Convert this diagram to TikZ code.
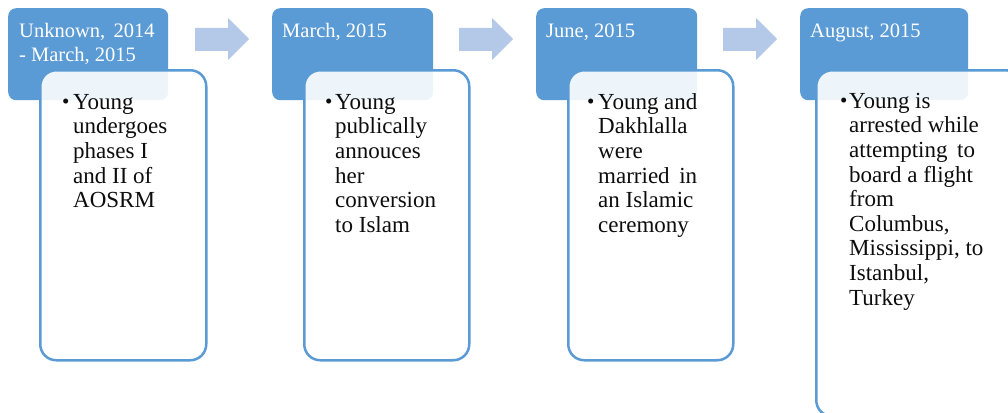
\documentclass[tikz,border=0pt]{standalone}
\usepackage{fontspec}
\setmainfont{Liberation Serif}
\begin{document}
\definecolor{hdrblue}{HTML}{5B9BD5}
\definecolor{arrowblue}{HTML}{B4C8E7}
\definecolor{bodytext}{HTML}{0D0D0D}
% first-line strut so that a node's top sits a fixed distance above its first baseline
\newcommand{\firststrut}{\rule{0pt}{17pt}}
\begin{tikzpicture}[x=1pt,y=-1pt,
  hdr/.style={fill=hdrblue, rounded corners=8pt, draw=none, inner sep=0pt, anchor=north west},
  card/.style={fill=white, fill opacity=0.9, draw=hdrblue, draw opacity=1, line width=2.5pt,
               rounded corners=16pt, inner sep=0pt, anchor=north west},
  hdrtext/.style={text=white, font=\rmfamily\fontsize{20.5}{24.7}\selectfont, align=left,
                  inner sep=0pt, anchor=north west},
  bodytxt/.style={text=bodytext, font=\rmfamily\fontsize{23}{24.6}\selectfont, align=left,
                  inner sep=0pt, anchor=north west},
  dot/.style={text=bodytext, font=\rmfamily\fontsize{21}{24}\selectfont, inner sep=0pt, anchor=base west},
  stepArrow/.style={fill=arrowblue, draw=none}]
\useasboundingbox (0,0) rectangle (1008,412);
\clip (0,0) rectangle (1008,412);

% timeline arrows between the stages
\foreach \x in {195,459,723}{
  \fill[stepArrow] (\x,28) -- (\x+33,28) -- (\x+33,18) -- (\x+54,39)
                   -- (\x+33,60) -- (\x+33,51) -- (\x,51) -- cycle;
}

% date headers
\node[hdr, minimum width=160pt, minimum height=92pt] (h1) at (8,8) {};
\node[hdr, minimum width=161pt, minimum height=92pt] (h2) at (272,8) {};
\node[hdr, minimum width=161pt, minimum height=92pt] (h3) at (536,8) {};
\node[hdr, minimum width=168pt, minimum height=92pt] (h4) at (800,8) {};

% header text: first baseline at y=37
\node[hdrtext] (d1) at (19,20) {\firststrut Unknown,\, 2014\\- March, 2015};
\node[hdrtext] (d2) at (282,20) {\firststrut March, 2015};
\node[hdrtext] (d3) at (546,20) {\firststrut June, 2015};
\node[hdrtext] (d4) at (810,20) {\firststrut August, 2015};

% event cards
\node[card, minimum width=166pt, minimum height=290pt] (c1) at (39,69) {};
\node[card, minimum width=165pt, minimum height=290pt] (c2) at (303,69) {};
\node[card, minimum width=165pt, minimum height=290pt] (c3) at (567,69) {};
\node[card, minimum width=205pt, minimum height=346pt] (c4) at (815,69) {};

\node[dot] (b1) at (62,108) {\textbullet};
\node[dot] (b2) at (325,108) {\textbullet};
\node[dot] (b3) at (587,108) {\textbullet};
\node[dot] (b4) at (840,107) {\textbullet};

% card text: first baseline at y=109
\node[bodytxt] (t1) at (73,92) {\firststrut Young\\undergoes\\phases I\\and II of\\AOSRM};
\node[bodytxt] (t2) at (335,92) {\firststrut Young\\publically\\annouces\\her\\conversion\\to Islam};
\node[bodytxt] (t3) at (598,92) {\firststrut Young and\\Dakhlalla\\were\\married\, in\\an Islamic\\ceremony};
\node[bodytxt] (t4) at (849,91) {\firststrut Young is\\arrested while\\attempting\, to\\board a flight\\from\\Columbus,\\Mississippi, to\\Istanbul,\\Turkey};
\end{tikzpicture}
\end{document}
